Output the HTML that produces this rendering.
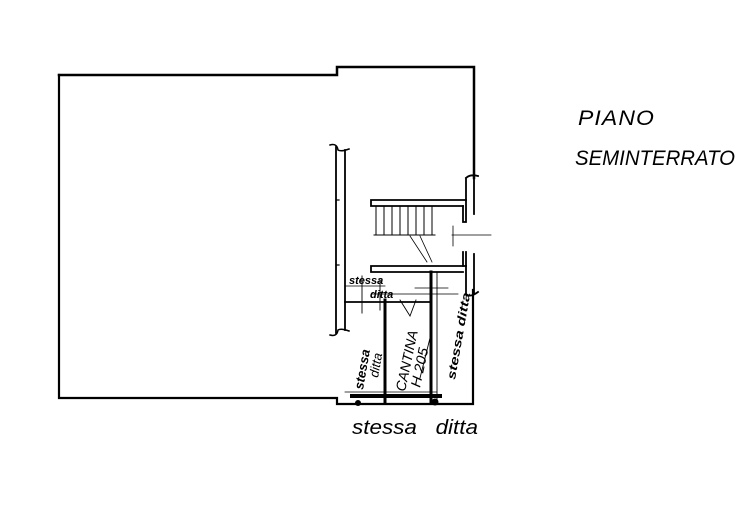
<!DOCTYPE html>
<html><head><meta charset="utf-8"><style>
html,body{margin:0;padding:0;background:#fff;width:738px;height:518px;overflow:hidden}
svg{display:block}
text{font-family:"Liberation Sans",sans-serif;fill:#000}
</style></head><body>
<svg width="738" height="518" viewBox="0 0 738 518" xmlns="http://www.w3.org/2000/svg">
<g fill="none" stroke="#000" stroke-linecap="square">
<path d="M59 75 H337 V67 H474 V178" stroke-width="2.5"/>
<path d="M59 75 V398 H337 V404 H473 V290" stroke-width="2.2"/>
<path d="M336 147 V333 M345 150 V330" stroke-width="1.8"/>
<path d="M330 145 Q337 143 338 150 Q341 152 349 149" stroke-width="1.5"/>
<path d="M330 335 Q337 337 338 330 Q341 328 349 331" stroke-width="1.5"/>
<path d="M336 200 h3 M336 265 h3" stroke-width="1.2"/>
<path d="M371 200 H466 M371 206 H463 M371 200 V206" stroke-width="1.8"/>
<path d="M466 178 V222 M474 176 V214 M466 178 Q470 174 478 176 M463 206 V222 H466" stroke-width="1.8"/>
<path d="M376 206 V234 M384 206 V234 M392 206 V234 M400 206 V234 M408 206 V234 M416 206 V234 M424 206 V234 M432 206 V234 M374 235 H435" stroke-width="1"/>
<path d="M410 236 L427 262 M420 236 L432 262" stroke-width="0.8"/>
<path d="M452 235 H491 M453 226 V246" stroke-width="0.8"/>
<path d="M371 266 H466 M371 272 H463 M371 266 V272" stroke-width="1.8"/>
<path d="M466 252 V294 M474 254 V294 M463 252 V266 M466 294 Q470 298 478 292" stroke-width="1.8"/>
<path d="M345 302 H431" stroke-width="1.8"/>
<path d="M345 286 H385 M415 288 H448 M372 294 H458" stroke-width="0.8"/>
<path d="M385 300 V403 M431 272 V403" stroke-width="3"/>
<path d="M437 272 V400 M362 276 V313 M380 280 V310" stroke-width="0.9"/>
<path d="M400 300 L410 316 L416 300 M432 330 L420 378" stroke-width="0.9"/>
<path d="M345 392 H437" stroke-width="0.8"/>
<path d="M352 396 H440" stroke-width="4" stroke-dasharray="3 2"/>
</g>
<circle cx="358" cy="403" r="3"/><circle cx="435" cy="402" r="3.5"/>
<text x="578" y="125" font-size="21" font-style="italic" letter-spacing="1" textLength="77" lengthAdjust="spacingAndGlyphs">PIANO</text>
<text x="575" y="165" font-size="21" font-style="italic" textLength="160" lengthAdjust="spacingAndGlyphs">SEMINTERRATO</text>
<text x="352" y="434" font-size="20" font-style="italic" textLength="126" lengthAdjust="spacingAndGlyphs">stessa&#160;&#160; ditta</text>
<text transform="translate(405,392) rotate(-78)" font-size="14" font-style="italic" textLength="62" lengthAdjust="spacingAndGlyphs">CANTINA</text>
<text transform="translate(420,388) rotate(-78)" font-size="14" font-style="italic" textLength="40" lengthAdjust="spacingAndGlyphs">H 205</text>
<text transform="translate(363,390) rotate(-80)" font-size="13" font-weight="bold" font-style="italic">stessa</text>
<text transform="translate(378,378) rotate(-80)" font-size="13" font-style="italic">ditta</text>
<text transform="translate(455,380) rotate(-80)" font-size="12" font-weight="bold" font-style="italic" textLength="88" lengthAdjust="spacingAndGlyphs">stessa ditta</text>
<text x="349" y="284" font-size="11" font-weight="bold" font-style="italic">stessa</text>
<text x="370" y="298" font-size="11" font-weight="bold" font-style="italic">ditta</text>
</svg>
</body></html>
